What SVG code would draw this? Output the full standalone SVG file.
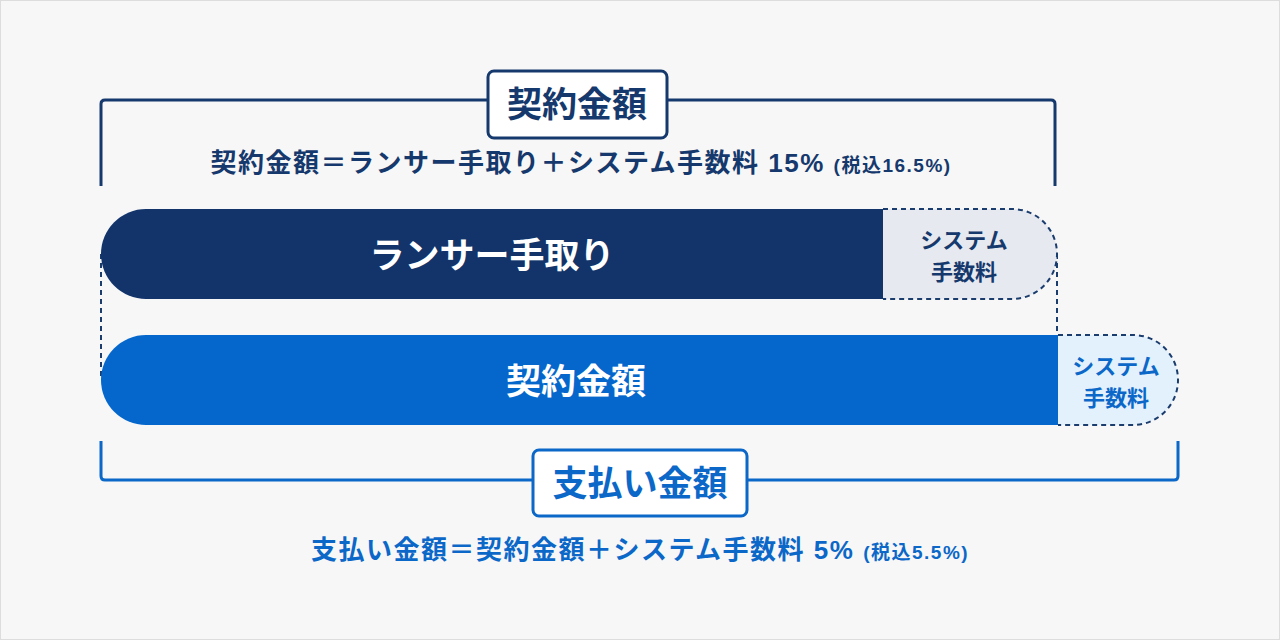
<svg xmlns="http://www.w3.org/2000/svg" width="1280" height="640" viewBox="0 0 1280 640">
<style>
text{font-family:"Liberation Sans","Noto Sans CJK JP",sans-serif;font-weight:700;text-anchor:middle}
.navy{fill:#16396d}
.blue{fill:#0b68c8}
.white{fill:#ffffff}
.formula{font-size:26px;letter-spacing:1.5px}
.note{font-size:19px}
.dash{fill:none;stroke:#1b3d6e;stroke-width:2;stroke-dasharray:5 4}
</style>
<rect x="0.5" y="0.5" width="1279" height="639" fill="#f7f7f7" stroke="#dddddd"/>
<g id="connectors">
<path d="M101,186 V104 Q101,100 105,100 H1051 Q1055,100 1055,104 V186" fill="none" stroke="#16396d" stroke-width="3"/>
<path d="M101,441 V476 Q101,480 105,480 H1174 Q1178,480 1178,476 V441" fill="none" stroke="#0b68c8" stroke-width="3"/>
<path class="dash" d="M101,254 V380"/>
<path class="dash" d="M1057,254 V335"/>
</g>
<g id="label-contract">
<rect x="488" y="71" width="179" height="67" rx="6" fill="#ffffff" stroke="#16396d" stroke-width="3"/>
<text class="navy" x="577" y="117" font-size="35">契約金額</text>
</g>
<g id="formula-contract">
<text class="navy formula" x="581" y="172">契約金額＝ランサー手取り＋システム手数料 15% <tspan class="note">(税込16.5%)</tspan></text>
</g>
<g id="bar-lancer">
<path d="M146,209 H884 V299 H146 A45,45 0 0 1 146,209 Z" fill="#12346a"/>
<text class="white" x="492" y="268" font-size="35">ランサー手取り</text>
</g>
<g id="fee-top">
<path d="M883,209 H1012 A45,45 0 0 1 1012,299 H883 Z" fill="#e6e9f0"/>
<path class="dash" d="M883,209 H1012 A45,45 0 0 1 1012,299 H883"/>
<text class="navy" x="964" y="248" font-size="22">システム</text>
<text class="navy" x="964" y="280" font-size="22">手数料</text>
</g>
<g id="bar-contract">
<path d="M146,335 H1059 V425 H146 A45,45 0 0 1 146,335 Z" fill="#0567cc"/>
<text class="white" x="576" y="394" font-size="35">契約金額</text>
</g>
<g id="fee-bottom">
<path d="M1058,335 H1133 A45,45 0 0 1 1133,425 H1058 Z" fill="#e3f1fd"/>
<path class="dash" d="M1058,335 H1133 A45,45 0 0 1 1133,425 H1058"/>
<text class="blue" x="1116" y="374" font-size="22">システム</text>
<text class="blue" x="1116" y="406" font-size="22">手数料</text>
</g>
<g id="label-payment">
<rect x="533" y="450" width="214" height="66" rx="6" fill="#ffffff" stroke="#0b68c8" stroke-width="3"/>
<text class="blue" x="640" y="496" font-size="35">支払い金額</text>
</g>
<g id="formula-payment">
<text class="blue formula" x="640" y="559">支払い金額＝契約金額＋システム手数料 5% <tspan class="note">(税込5.5%)</tspan></text>
</g>
</svg>
